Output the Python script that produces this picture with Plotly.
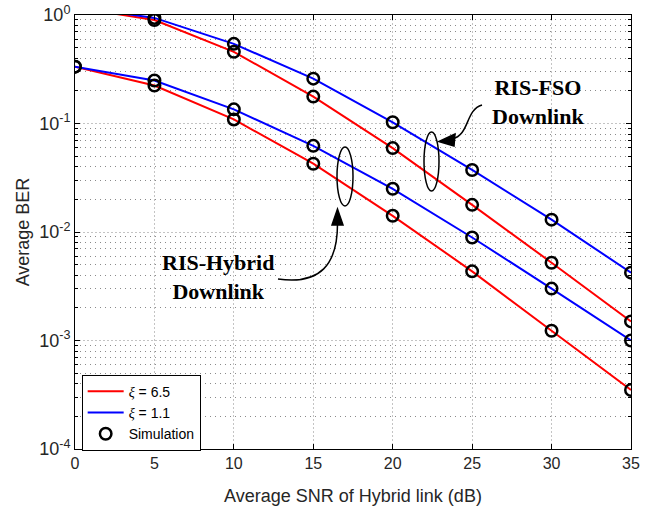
import plotly.graph_objects as go

snr = [0, 5, 10, 15, 20, 25, 30, 35]

# RIS-FSO downlink
fso_xi65 = [1.175, 0.90, 0.458, 0.177, 0.0593, 0.0178, 0.00521, 0.00150]
fso_xi11 = [1.19, 0.94, 0.542, 0.259, 0.1026, 0.0373, 0.0130, 0.00422]
# RIS-Hybrid downlink
hyb_xi65 = [0.334, 0.224, 0.109, 0.0426, 0.0141, 0.00434, 0.00123, 0.00035]
hyb_xi11 = [0.334, 0.249, 0.135, 0.0622, 0.0250, 0.0089, 0.00301, 0.00100]

# simulation points (x, BER) for each curve
sim_snr_fso = [5, 10, 15, 20, 25, 30, 35]
sim_fso_xi65 = fso_xi65[1:]
sim_fso_xi11 = fso_xi11[1:]
sim_snr_hyb = snr
sim_hyb_xi65 = hyb_xi65
sim_hyb_xi11 = hyb_xi11

y_tickvals = [1e-4, 1e-3, 1e-2, 1e-1, 1]
y_ticktext = ["10<sup>-4</sup>", "10<sup>-3</sup>", "10<sup>-2</sup>", "10<sup>-1</sup>", "10<sup>0</sup>"]
x_tickvals = [0, 5, 10, 15, 20, 25, 30, 35]

RED = "#FF0000"
BLUE = "#0000FF"

fig = go.Figure()

fig.add_trace(go.Scatter(x=snr, y=fso_xi65, mode="lines", line=dict(color=RED, width=2),
                         name='<span style="font-family:Liberation Serif"><i>ξ</i></span> = 6.5', legendgroup="r"))
fig.add_trace(go.Scatter(x=snr, y=hyb_xi65, mode="lines", line=dict(color=RED, width=2),
                         showlegend=False, legendgroup="r"))
fig.add_trace(go.Scatter(x=snr, y=fso_xi11, mode="lines", line=dict(color=BLUE, width=2),
                         name='<span style="font-family:Liberation Serif"><i>ξ</i></span> = 1.1', legendgroup="b"))
fig.add_trace(go.Scatter(x=snr, y=hyb_xi11, mode="lines", line=dict(color=BLUE, width=2),
                         showlegend=False, legendgroup="b"))

sx = sim_snr_fso + [None] + sim_snr_fso + [None] + sim_snr_hyb + [None] + sim_snr_hyb
sy = sim_fso_xi65 + [None] + sim_fso_xi11 + [None] + sim_hyb_xi65 + [None] + sim_hyb_xi11
fig.add_trace(go.Scatter(x=sx, y=sy, mode="markers", name="Simulation",
                         marker=dict(symbol="circle-open", size=11.5, color="black",
                                     line=dict(width=2.5, color="black"))))

# pixel -> paper helpers (plot area: x 75..631, y 15..449)
L, R, T, B = 75, 631, 15, 449
def px(x):
    return (x - L) / (R - L)
def py(y):
    return (B - y) / (B - T)

def ellipse(cx, cy, rx, ry):
    fig.add_shape(type="circle", xref="paper", yref="paper",
                  x0=px(cx - rx), x1=px(cx + rx), y0=py(cy + ry), y1=py(cy - ry),
                  line=dict(color="black", width=1.5))

def path(points, closed=False, fill=None):
    d = "M {},{} ".format(px(points[0][0]), py(points[0][1]))
    for p in points[1:]:
        d += "L {},{} ".format(px(p[0]), py(p[1]))
    if closed:
        d += "Z"
    fig.add_shape(type="path", xref="paper", yref="paper", path=d,
                  line=dict(color="black", width=1.5),
                  fillcolor=fill if fill else "rgba(0,0,0,0)")

def bezier(p0, c1, c2, p3):
    d = "M {},{} C {},{} {},{} {},{}".format(px(p0[0]), py(p0[1]), px(c1[0]), py(c1[1]),
                                            px(c2[0]), py(c2[1]), px(p3[0]), py(p3[1]))
    fig.add_shape(type="path", xref="paper", yref="paper", path=d,
                  line=dict(color="black", width=1.5))

# ellipses
ellipse(431.5, 161.5, 7.5, 29.5)
ellipse(345, 176.5, 8, 29.5)

# FSO arrow: start upper right, curves to tip pointing left
bezier((482, 105), (465, 110), (470, 135), (452, 139))
path([(439, 141.5), (455, 134), (454, 146)], closed=True, fill="black")

# Hybrid arrow: start at text, curves up to tip
bezier((278, 279), (320, 285), (338, 265), (337.5, 222))
path([(337.5, 209), (332, 225), (343, 225)], closed=True, fill="black")

ann_font = dict(family="Liberation Serif", size=22, color="black")
fig.add_annotation(x=px(538), y=py(102), xref="paper", yref="paper", showarrow=False,
                   xanchor="center", yanchor="middle",
                   text="<b>RIS-FSO<br>Downlink</b>", font=ann_font, align="center")
fig.add_annotation(x=px(218), y=py(277), xref="paper", yref="paper", showarrow=False,
                   xanchor="center", yanchor="middle",
                   text="<b>RIS-Hybrid<br>Downlink</b>", font=ann_font, align="center")

axis_common = dict(showline=True, linecolor="black", linewidth=1, mirror="ticks",
                   ticks="inside", ticklen=5, tickcolor="black", automargin=False,
                   showgrid=True, gridcolor="#c4c4c4", griddash="2px,2px", gridwidth=1,
                   zeroline=False, tickfont=dict(family="Liberation Sans", size=16, color="#262626"))

fig.update_xaxes(range=[0, 35], tickvals=x_tickvals, **axis_common,
                 title=dict(text="Average SNR of Hybrid link (dB)", standoff=18,
                            font=dict(family="Liberation Sans", size=18, color="#262626")))

minor_vals = [m * 10 ** e for e in range(-4, 0) for m in range(2, 10)]
fig.update_yaxes(type="log", range=[-4, 0], tickvals=y_tickvals, ticktext=y_ticktext, **axis_common,
                 minor=dict(tickvals=minor_vals, showgrid=True, gridcolor="#8a8a8a", griddash="1px,4px",
                            ticks="inside", ticklen=3, tickcolor="black"),
                 title=dict(text="Average BER", standoff=4,
                            font=dict(family="Liberation Sans", size=18, color="#262626")))
fig.update_yaxes(tickfont=dict(size=18))

fig.update_layout(
    width=651, height=511,
    margin=dict(l=L, r=651 - R, t=T, b=511 - B),
    plot_bgcolor="white", paper_bgcolor="white",
    legend=dict(x=0.012, y=-0.004, xanchor="left", yanchor="bottom",
                bordercolor="black", borderwidth=1, bgcolor="white",
                font=dict(family="Liberation Sans", size=14, color="black"),
                tracegroupgap=0, itemwidth=36),
    showlegend=True,
)

fig.write_html("out.html")
